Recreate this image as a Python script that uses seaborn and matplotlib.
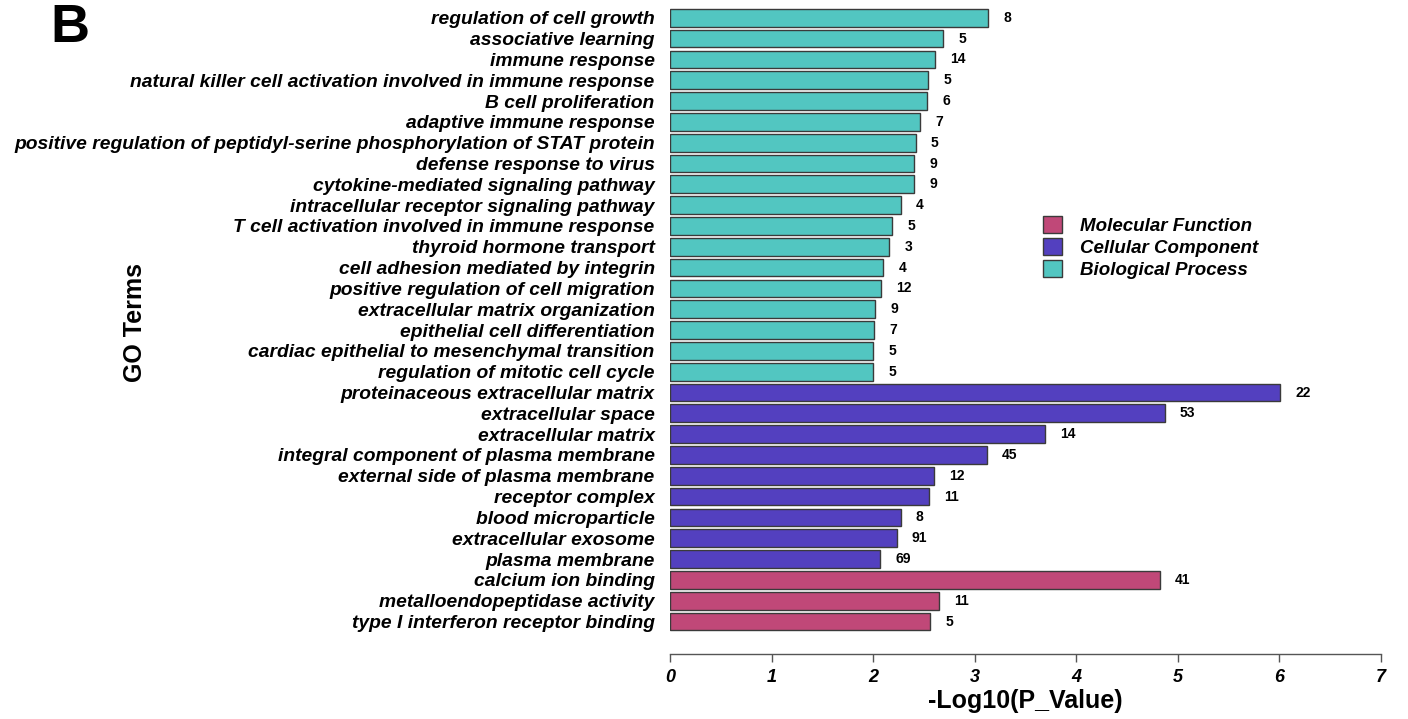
import pandas as pd
import seaborn as sns
import matplotlib.pyplot as plt

# GO terms, top to bottom
bp_terms = ["regulation of cell growth", "associative learning", "immune response",
            "natural killer cell activation involved in immune response", "B cell proliferation",
            "adaptive immune response",
            "positive regulation of peptidyl-serine phosphorylation of STAT protein",
            "defense response to virus", "cytokine-mediated signaling pathway",
            "intracellular receptor signaling pathway", "T cell activation involved in immune response",
            "thyroid hormone transport", "cell adhesion mediated by integrin",
            "positive regulation of cell migration", "extracellular matrix organization",
            "epithelial cell differentiation", "cardiac epithelial to mesenchymal transition",
            "regulation of mitotic cell cycle"]
bp_values = [3.13, 2.69, 2.61, 2.54, 2.53, 2.46, 2.42, 2.40, 2.40, 2.27, 2.19, 2.16, 2.10, 2.08,
             2.02, 2.01, 2.00, 2.00]
bp_counts = [8, 5, 14, 5, 6, 7, 5, 9, 9, 4, 5, 3, 4, 12, 9, 7, 5, 5]

cc_terms = ["proteinaceous extracellular matrix", "extracellular space", "extracellular matrix",
            "integral component of plasma membrane", "external side of plasma membrane",
            "receptor complex", "blood microparticle", "extracellular exosome", "plasma membrane"]
cc_values = [6.01, 4.87, 3.69, 3.12, 2.60, 2.55, 2.27, 2.23, 2.07]
cc_counts = [22, 53, 14, 45, 12, 11, 8, 91, 69]

mf_terms = ["calcium ion binding", "metalloendopeptidase activity", "type I interferon receptor binding"]
mf_values = [4.82, 2.65, 2.56]
mf_counts = [41, 11, 5]

categories = ["Molecular Function", "Cellular Component", "Biological Process"]
colors = {"Molecular Function": "#C04878", "Cellular Component": "#5340BF",
          "Biological Process": "#52C6C1"}

df = pd.DataFrame({
    "term": bp_terms + cc_terms + mf_terms,
    "value": bp_values + cc_values + mf_values,
    "count": bp_counts + cc_counts + mf_counts,
    "category": ["Biological Process"] * len(bp_terms) + ["Cellular Component"] * len(cc_terms)
                + ["Molecular Function"] * len(mf_terms),
})

sns.set_theme(style="white")
plt.rcParams["font.family"] = ["Liberation Sans", "DejaVu Sans"]
plt.rcParams["text.color"] = "black"
plt.rcParams["axes.labelcolor"] = "black"
plt.rcParams["xtick.color"] = "black"
plt.rcParams["ytick.color"] = "black"
narrow = ["Liberation Sans Narrow", "Liberation Sans", "DejaVu Sans"]

fig = plt.figure(figsize=(14.08, 7.19), dpi=100)
ax = fig.add_axes([670 / 1408, 1 - 654 / 719, 711 / 1408, 654 / 719])

sns.barplot(data=df, y="term", x="value", hue="category", hue_order=categories,
            palette=colors, dodge=False, width=0.85, edgecolor="#3a3a3a", linewidth=1.0,
            saturation=1, ax=ax)

for i, row in df.iterrows():
    ax.text(row["value"] + 0.15, i, str(row["count"]), va="center", ha="left",
            fontsize=10, fontweight="bold", family=narrow, color="black")

ax.set_xlim(0, 7)
ax.set_ylim(30.56, -0.855)
ax.set_xticks(range(8))
ax.set_xticklabels([str(t) for t in range(8)], fontsize=13, fontweight="bold",
                   fontstyle="italic", family=narrow)
ax.tick_params(axis="x", bottom=True, direction="out", length=6, width=1,
               color="#555555", labelcolor="black", pad=5)
ax.tick_params(axis="y", length=0, pad=11, labelcolor="black")
for lbl in ax.get_yticklabels():
    lbl.set_fontsize(13.9)
    lbl.set_fontweight("bold")
    lbl.set_fontstyle("italic")

for s in ["top", "right", "left"]:
    ax.spines[s].set_visible(False)
ax.spines["bottom"].set_color("#555555")
ax.spines["bottom"].set_linewidth(1.0)

ax.set_ylabel("")
ax.set_xlabel("-Log10(P_Value)", fontsize=18, fontweight="bold", family=narrow, labelpad=2)

fig.text(135 / 1408, 1 - 323 / 719, "GO Terms", rotation=90, fontsize=18, fontweight="bold",
         ha="center", va="center")
fig.text(50 / 1408, 1 - 3 / 719, "B", fontsize=39, fontweight="bold", ha="left", va="top")

handles, labels = ax.get_legend_handles_labels()
ax.legend(handles, labels, loc="upper left", bbox_to_anchor=(1026 / 1408, 1 - 199 / 719),
          bbox_transform=fig.transFigure, frameon=False, handlelength=1.0, handleheight=1.0,
          handletextpad=1.0, labelspacing=0.18,
          prop={"size": 13.5, "weight": "bold", "style": "italic"})

fig.savefig("out.png", dpi=100)
